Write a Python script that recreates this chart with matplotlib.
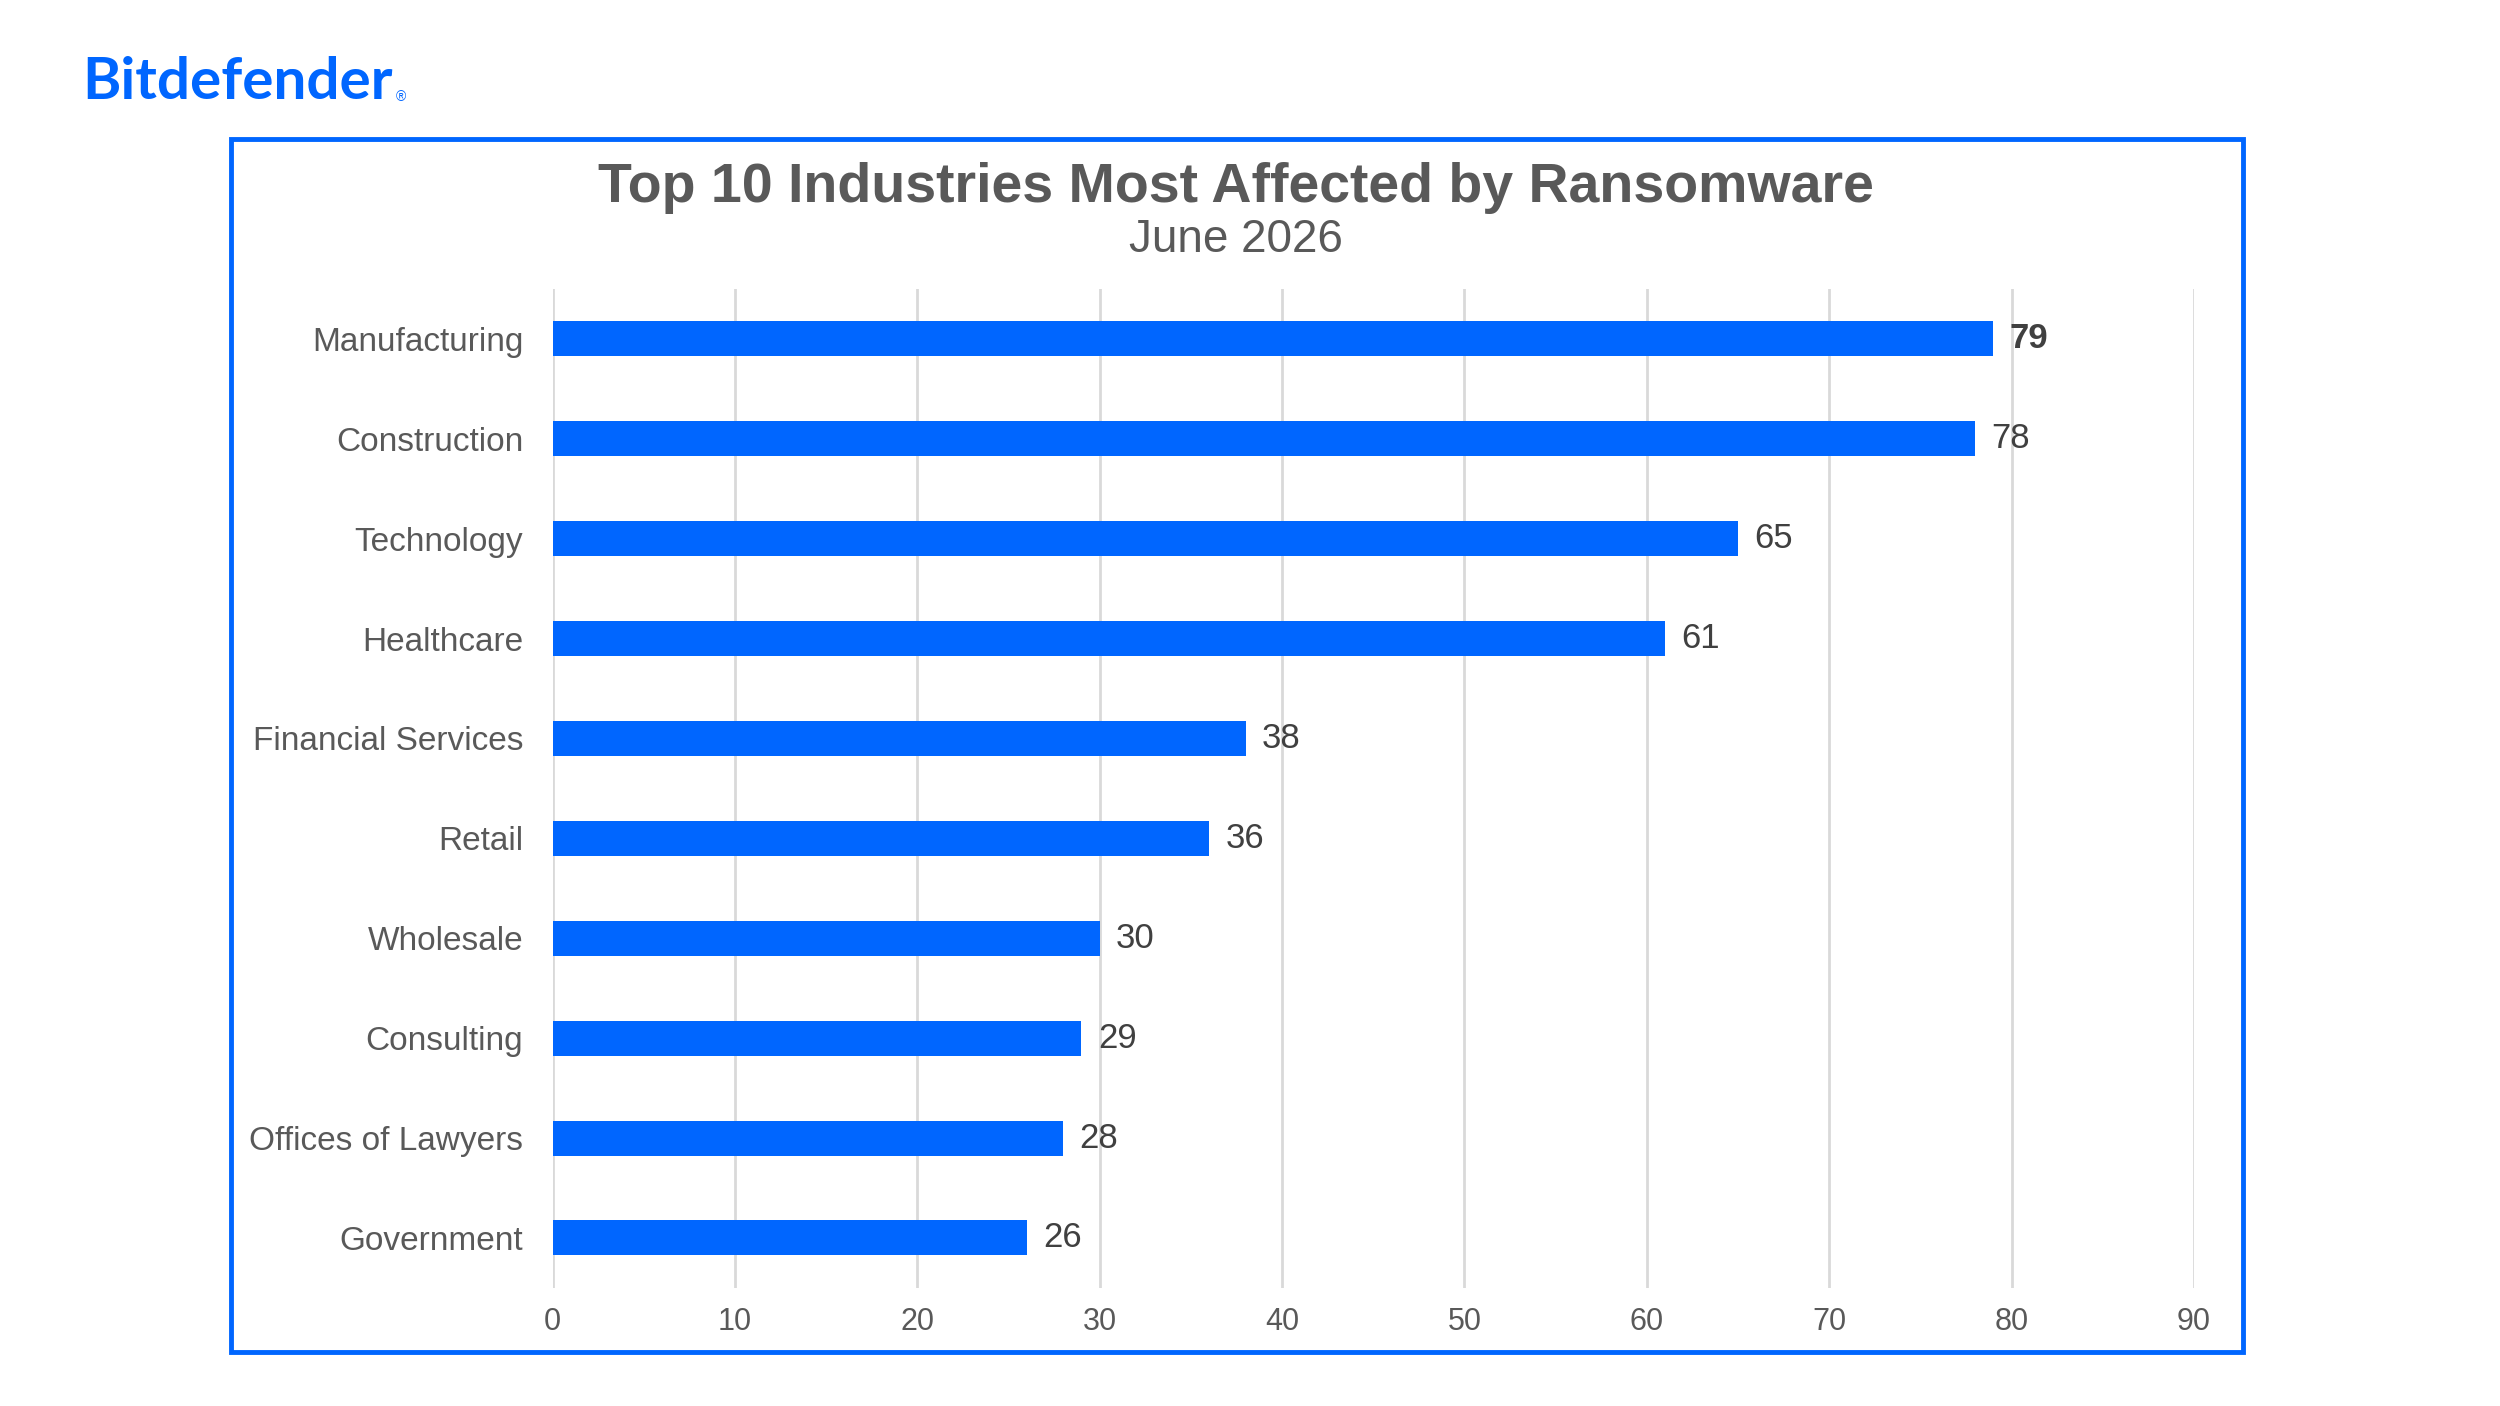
import matplotlib.pyplot as plt
from matplotlib.patches import Rectangle

industries = ["Manufacturing", "Construction", "Technology", "Healthcare",
              "Financial Services", "Retail", "Wholesale", "Consulting",
              "Offices of Lawyers", "Government"]
attacks = [79, 78, 65, 61, 38, 36, 30, 29, 28, 26]
xticks = [0, 10, 20, 30, 40, 50, 60, 70, 80, 90]

blue = "#0066FF"
gray = "#595959"

plt.rcParams['font.family'] = ['Liberation Sans', 'DejaVu Sans']

fig = plt.figure(figsize=(25, 14.06), dpi=100)

# blue frame round the chart
fig.patches.append(Rectangle((0.0925, 0.0385), 0.8045, 0.8625, transform=fig.transFigure,
                             fill=False, edgecolor=blue, linewidth=3.5))

fig.text(0.033, 0.941, "Bitdefender", color=blue, fontsize=42, fontweight="bold",
         va="center", ha="left", family=["Lato", "DejaVu Sans"])
fig.text(0.1585, 0.931, "®", color=blue, fontsize=10, va="center", ha="left")

fig.text(0.4945, 0.866, "Top 10 Industries Most Affected by Ransomware", color=gray,
         fontsize=40, fontweight="bold", ha="center", va="center")
fig.text(0.4945, 0.829, "June 2026", color=gray, fontsize=33, ha="center", va="center")

ax = fig.add_axes([0.221, 0.084, 0.6566, 0.7105])
pos = list(range(len(industries)))
ax.barh(pos, attacks, height=0.35, color=blue, zorder=3)
ax.set_ylim(len(industries) - 0.5, -0.5)
ax.set_xlim(0, 90)
ax.set_xticks(xticks)
ax.set_yticks(pos)
ax.set_yticklabels(industries, fontsize=24)
ax.tick_params(axis="both", length=0, labelsize=22, labelcolor=gray)
ax.tick_params(axis="y", labelsize=24, pad=21)
ax.tick_params(axis="x", pad=14)
ax.grid(axis="x", color="#D9D9D9", linewidth=2, zorder=0)
for s in ax.spines.values():
    s.set_visible(False)

for i, v in enumerate(attacks):
    ax.text(v + 0.9, i, str(v), va="center", ha="left", fontsize=25, color="#404040",
            fontweight="bold" if i == 0 else "normal", zorder=4)

fig.savefig("out.png", dpi=100, facecolor="white")
